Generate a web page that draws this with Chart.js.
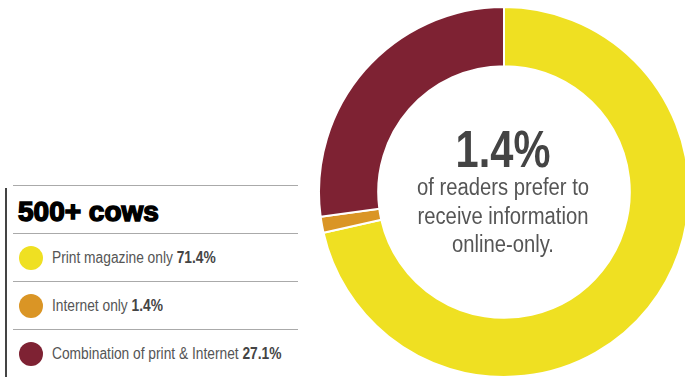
<!DOCTYPE html>
<html>
<head>
<meta charset="utf-8">
<script src="https://cdn.jsdelivr.net/npm/chart.js@4/dist/chart.umd.min.js"></script>
<style>
  html, body { margin: 0; padding: 0; width: 685px; height: 377px; overflow: hidden; background: #fff; }
  #wrap { position: relative; width: 685px; height: 377px; }
  #donut { position: absolute; left: 318px; top: 6px; width: 372px; height: 372px; }
  .cline { position: absolute; left: 353px; width: 300px; text-align: center; white-space: nowrap;
           font-family: "Liberation Sans", sans-serif; color: #555; }
  .cline.big { font-size: 52px; line-height: 52px; font-weight: bold; color: #444; transform: scaleX(0.8); }
  .cline.sub { font-size: 23px; line-height: 23px; transform: scaleX(0.88); }
  #vline { position: absolute; left: 5px; top: 188px; width: 2px; height: 189px; background: #444; }
  .rule { position: absolute; left: 13px; width: 285px; height: 1px; background: #aaa; }
  #title { position: absolute; left: 18px; top: 196px; font-family: "Liberation Sans", sans-serif; white-space: nowrap;
           font-weight: bold; font-size: 28px; line-height: 32px; color: #000;
           -webkit-text-stroke: 1.5px #000; }
  .dot { position: absolute; left: 19px; width: 24px; height: 24px; border-radius: 50%; }
  .lbl { position: absolute; left: 52px; font-family: "Liberation Sans", sans-serif; font-size: 16px; line-height: 16px;
         color: #555; white-space: nowrap; transform: scaleX(0.86); transform-origin: 0 50%; }
  .lbl b { color: #444; }
</style>
</head>
<body>
<div id="wrap">
  <div id="panel"></div>
  <canvas id="donut" width="372" height="372"></canvas>
  <div id="center"></div>
</div>
<script>
// Reader preference, herds of 500+ cows
const categories = ["Print magazine only", "Internet only", "Combination of print & Internet"];
const shares = [71.4, 1.4, 27.1];
const colors = ["#EFE022", "#DA9525", "#7E2233"];
const panelTitle = "500+ cows";
const headline = "1.4%";
const headlineText = ["of readers prefer to", "receive information", "online-only."];

// Side panel with title, rules and legend rows
const panel = document.getElementById("panel");
let html = '<div id="vline"></div><div class="rule" style="top:185px"></div>';
html += '<div id="title">' + panelTitle + '</div>';
const rowTops = [233, 281, 329];
categories.forEach((c, i) => {
  const t = rowTops[i];
  html += '<div class="rule" style="top:' + t + 'px"></div>';
  html += '<div class="dot" style="top:' + (t + 13) + 'px;background:' + colors[i] + '"></div>';
  html += '<div class="lbl" style="top:' + (t + 16.5) + 'px">' + c + ' <b>' + shares[i].toFixed(1) + '%</b></div>';
});
panel.innerHTML = html;

// Centre caption, one block per line
let ch = '<div class="cline big" style="top:123px">' + headline + '</div>';
const subTops = [175.5, 204.5, 232.5];
headlineText.forEach((s, i) => {
  ch += '<div class="cline sub" style="top:' + subTops[i] + 'px">' + s + '</div>';
});
document.getElementById("center").innerHTML = ch;

new Chart(document.getElementById("donut"), {
  type: "doughnut",
  data: {
    labels: categories,
    datasets: [{
      data: shares,
      backgroundColor: colors,
      borderColor: "#fff",
      borderWidth: 2
    }]
  },
  options: {
    responsive: false,
    animation: false,
    cutout: "68%",
    rotation: 0,
    layout: { padding: 0 },
    plugins: { legend: { display: false }, tooltip: { enabled: false } }
  }
});
</script>
</body>
</html>
